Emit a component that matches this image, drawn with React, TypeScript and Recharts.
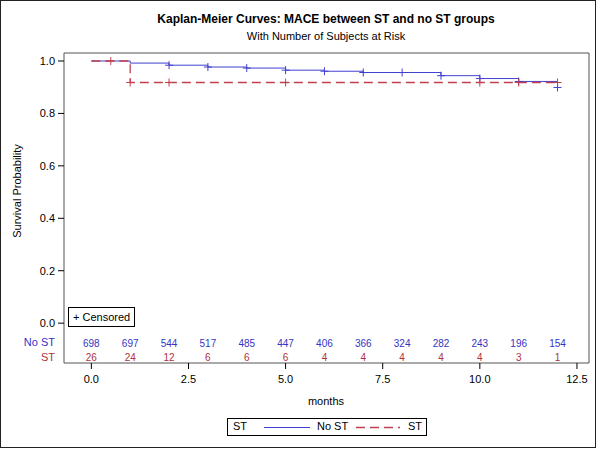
import React from "react";
import {
  ComposedChart,
  Line,
  Scatter,
  XAxis,
  YAxis,
  ReferenceArea,
} from "recharts";

// survival step curves (months -> survival probability)
const noStMonths = [0, 1, 2, 3, 4, 5, 6, 7, 8, 9, 10, 11, 12];
const noStSurv = [1.0, 0.992, 0.984, 0.977, 0.973, 0.965, 0.961, 0.956, 0.956, 0.944, 0.933, 0.922, 0.899];
const stMonths = [0, 1, 12];
const stSurv = [1.0, 0.918, 0.918];

// censored observations
const noStCensMonths = [2, 3, 4, 5, 6, 7, 8, 9, 10, 11, 12];
const noStCensSurv = [0.984, 0.977, 0.973, 0.965, 0.961, 0.956, 0.956, 0.944, 0.933, 0.922, 0.899];
const stCensMonths = [0.5, 1, 2, 5, 10, 11, 12];
const stCensSurv = [1.0, 0.918, 0.918, 0.918, 0.918, 0.918, 0.918];

// subjects at risk
const riskMonths = [0, 1, 2, 3, 4, 5, 6, 7, 8, 9, 10, 11, 12];
const noStAtRisk = [698, 697, 544, 517, 485, 447, 406, 366, 324, 282, 243, 196, 154];
const stAtRisk = [26, 24, 12, 6, 6, 6, 4, 4, 4, 4, 4, 3, 1];

const xTicks = [0, 2.5, 5, 7.5, 10, 12.5];
const yTicks = [0, 0.2, 0.4, 0.6, 0.8, 1.0];

const BLUE = "#4040d0";
const BLUE_TXT = "#3434c4";
const RED = "#c0404f";
const RED_TXT = "#b0303c";
const FONT = "'Liberation Sans', Arial, sans-serif";

const X_MIN = -0.704;
const X_MAX = 12.81;
const Y_MIN = -0.152;
const Y_MAX = 1.0305;
const NO_ST_ROW = -0.0762;
const ST_ROW = -0.131;

const zip = (t: number[], s: number[]) => t.map((v, i) => ({ t: v, s: s[i] }));

const noStData = zip(noStMonths, noStSurv);
const stData = zip(stMonths, stSurv);
const noStCens = zip(noStCensMonths, noStCensSurv);
const stCens = zip(stCensMonths, stCensSurv);
const noStRisk = riskMonths.map((t, i) => ({ t, s: NO_ST_ROW, n: noStAtRisk[i] }));
const stRisk = riskMonths.map((t, i) => ({ t, s: ST_ROW, n: stAtRisk[i] }));

const plus = (color: string) => (p: any) => (
  <g stroke={color} strokeWidth={1}>
    <line x1={p.cx - 4} x2={p.cx + 4} y1={p.cy} y2={p.cy} />
    <line x1={p.cx} x2={p.cx} y1={p.cy - 4} y2={p.cy + 4} />
  </g>
);

const riskText = (color: string) => (p: any) => (
  <text
    x={p.cx}
    y={p.cy}
    textAnchor="middle"
    dominantBaseline="central"
    fontSize={10}
    fontFamily={FONT}
    fill={color}
  >
    {p.payload.n}
  </text>
);

const abs = (style: React.CSSProperties): React.CSSProperties => ({
  position: "absolute",
  fontFamily: FONT,
  whiteSpace: "nowrap",
  ...style,
});

export default function App() {
  return (
    <div style={{ position: "absolute", left: 0, top: 0, width: 600, height: 450, background: "#fff" }}>
      <div style={abs({ left: 0, top: 0, width: 596, height: 448, border: "1px solid #222", boxSizing: "border-box" })} />
      <div style={abs({ left: 0, width: 652, top: 12, textAlign: "center", fontSize: 12, fontWeight: "bold", color: "#000" })}>
        Kaplan-Meier Curves: MACE between ST and no ST groups
      </div>
      <div style={abs({ left: 0, width: 652, top: 30, textAlign: "center", fontSize: 11, color: "#000" })}>
        With Number of Subjects at Risk
      </div>

      <ComposedChart
        width={600}
        height={450}
        margin={{ top: 53, right: 11, bottom: 57, left: 0 }}
        style={{ position: "absolute", left: 0, top: 0 }}
      >
        <XAxis
          type="number"
          dataKey="t"
          domain={[X_MIN, X_MAX]}
          allowDataOverflow
          ticks={xTicks}
          tickFormatter={(v: number) => v.toFixed(1)}
          axisLine={false}
          tickLine={{ stroke: "#000" }}
          tickSize={6}
          tickMargin={6}
          height={30}
          tick={{ fill: "#000", fontSize: 11, fontFamily: FONT }}
        />
        <YAxis
          type="number"
          domain={[Y_MIN, Y_MAX]}
          allowDataOverflow
          ticks={yTicks}
          tickFormatter={(v: number) => v.toFixed(1)}
          axisLine={false}
          tickLine={{ stroke: "#000" }}
          tickSize={6}
          tickMargin={3}
          width={64}
          tick={{ fill: "#000", fontSize: 11, fontFamily: FONT }}
        />
        <ReferenceArea
          x1={X_MIN}
          x2={X_MAX}
          y1={Y_MIN}
          y2={Y_MAX}
          fill="none"
          stroke="#555"
          strokeWidth={1}
          ifOverflow="visible"
        />
        <Line
          data={noStData}
          dataKey="s"
          type="stepAfter"
          stroke={BLUE}
          strokeWidth={1}
          dot={false}
          isAnimationActive={false}
        />
        <Line
          data={stData}
          dataKey="s"
          type="stepAfter"
          stroke={RED}
          strokeWidth={1.3}
          strokeDasharray="9 5"
          dot={false}
          isAnimationActive={false}
        />
        <Scatter data={noStCens} dataKey="s" shape={plus(BLUE)} isAnimationActive={false} />
        <Scatter data={stCens} dataKey="s" shape={plus(RED)} isAnimationActive={false} />
        <Scatter data={noStRisk} dataKey="s" shape={riskText(BLUE_TXT)} isAnimationActive={false} />
        <Scatter data={stRisk} dataKey="s" shape={riskText(RED_TXT)} isAnimationActive={false} />
      </ComposedChart>

      <div
        style={abs({
          left: 17,
          top: 191,
          fontSize: 11,
          color: "#000",
          transform: "translate(-50%, -50%) rotate(-90deg)",
        })}
      >
        Survival Probability
      </div>
      <div style={abs({ right: 600 - 55, top: 336, fontSize: 11, color: BLUE_TXT })}>No ST</div>
      <div style={abs({ right: 600 - 55, top: 351, fontSize: 11, color: RED_TXT })}>ST</div>

      <div
        style={abs({
          left: 68,
          top: 307,
          width: 67,
          height: 20,
          border: "1px solid #000",
          boxSizing: "border-box",
          fontSize: 11,
          lineHeight: "18px",
          paddingLeft: 4,
          color: "#000",
        })}
      >
        + Censored
      </div>

      <div style={abs({ left: 0, width: 652, top: 395, textAlign: "center", fontSize: 11, color: "#000" })}>
        months
      </div>

      <div
        style={abs({
          left: 227,
          top: 418,
          width: 200,
          height: 18,
          border: "1px solid #000",
          boxSizing: "border-box",
          fontSize: 11,
          color: "#000",
        })}
      >
        <span style={{ position: "absolute", left: 5, top: 1 }}>ST</span>
        <svg style={{ position: "absolute", left: 36, top: 7 }} width={46} height={3}>
          <line x1={0} x2={46} y1={1.5} y2={1.5} stroke={BLUE} strokeWidth={1} />
        </svg>
        <span style={{ position: "absolute", left: 89, top: 1 }}>No ST</span>
        <svg style={{ position: "absolute", left: 128, top: 7 }} width={44} height={3}>
          <line x1={0} x2={44} y1={1.5} y2={1.5} stroke={RED} strokeWidth={1.3} strokeDasharray="9 5" />
        </svg>
        <span style={{ position: "absolute", left: 180, top: 1 }}>ST</span>
      </div>
    </div>
  );
}
